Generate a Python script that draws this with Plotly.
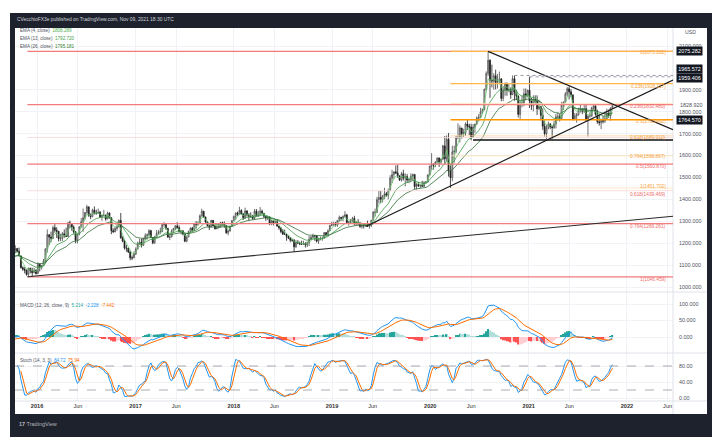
import numpy as np
import pandas as pd
import plotly.graph_objects as go

W, H = 718, 437

# ---------------- DATA (weekly XAUUSD, weeks starting Monday) ----------------
first_week = "2015-07-06"
closes = [
    1157,1131,1085,1095,1094,1113,1160,1134,1121,1103,1138,1146,1137,1156,
    1176,1163,1142,1088,1081,1076,1057,1086,1075,1065,1076,1061,
    1104,1090,1098,1118,1173,1239,1228,1222,1271,1259,1254,1220,1222,1243,1235,1230,1293,1290,1273,1252,1213,1243,
    1275,1298,1316,1340,1366,1327,1322,1351,1336,1336,1341,1321,1327,1328,1310,1338,1316,1257,1251,1267,1276,1304,
    1225,1209,1178,1177,1160,1133,1133,1151,
    1173,1196,1205,1190,1220,1234,1239,1257,1226,1202,1229,1243,1249,1254,1285,1285,1268,1227,1228,1254,1267,1279,
    1271,1254,1256,1242,1209,1228,1254,1269,1258,1289,1285,1291,1325,1346,1320,1297,1280,1275,1304,1280,1266,1270,
    1275,1294,1287,1280,1248,1256,1278,1303,
    1322,1338,1332,1349,1333,1316,1347,1329,1323,1323,1313,1346,1324,1332,1346,1336,1323,1315,1320,1291,1302,1294,
    1298,1278,1270,1253,1241,1241,1231,1223,1214,1213,1184,1205,1201,1196,1195,1199,1192,1203,1218,1227,1234,1233,
    1209,1222,1222,1222,1248,1238,1257,1281,1286,
    1289,1282,1304,1318,1314,1322,1329,1294,1298,1302,1313,1292,1291,1291,1276,1286,1279,1286,1277,1284,1305,1341,
    1341,1399,1409,1400,1416,1426,1419,1440,1497,1513,1526,1520,1507,1488,1517,1497,1504,1488,1490,1505,1514,1459,
    1468,1462,1464,1460,1476,1479,1511,1552,
    1562,1557,1571,1589,1570,1584,1644,1585,1674,1530,1499,1617,1620,1683,1683,1726,1700,1703,1744,1734,1730,1684,
    1730,1743,1771,1774,1799,1810,1902,1975,2035,1944,1940,1964,1934,1940,1950,1861,1899,1930,1899,1902,1878,1951,
    1889,1871,1788,1839,1839,1882,1876,1898,
    1849,1828,1856,1848,1814,1824,1784,1734,1700,1727,1745,1732,1728,1744,1777,1777,1769,1831,1844,1881,1905,1891,
    1877,1764,1781,1787,1808,1812,1802,1814,1763,1780,1781,1818,1827,1788,1754,1750,1761,1757,1768,1793,1783,1818,
    1828,
]
highs = [
    1171,1166,1131,1104,1099,1126,1170,1168,1147,1124,1144,1157,1145,1160,
    1191,1177,1180,1143,1095,1091,1080,1088,1088,1088,1088,1081,
    1112,1100,1100,1128,1177,1263,1240,1253,1280,1287,1273,1256,1243,1251,1263,1271,1297,1303,1290,1281,1255,1245,
    1277,1315,1358,1342,1375,1361,1336,1357,1368,1353,1358,1347,1327,1352,1330,1344,1340,1318,1268,1275,1284,1308,
    1338,1232,1216,1192,1180,1166,1144,1163,
    1181,1207,1220,1220,1226,1245,1244,1264,1261,1228,1233,1260,1261,1271,1289,1296,1287,1267,1237,1264,1270,1282,
    1296,1281,1258,1260,1244,1234,1257,1272,1274,1293,1301,1300,1331,1357,1336,1317,1302,1282,1306,1306,1283,1283,
    1289,1297,1298,1299,1280,1260,1279,1306,
    1326,1340,1344,1366,1355,1338,1362,1351,1337,1341,1329,1356,1356,1348,1365,1353,1338,1321,1326,1319,1307,1307,
    1308,1309,1280,1271,1265,1262,1243,1235,1228,1221,1219,1213,1214,1207,1212,1211,1204,1208,1233,1233,1243,1237,
    1237,1225,1230,1230,1251,1251,1263,1283,1298,
    1298,1297,1305,1326,1320,1327,1346,1334,1298,1311,1320,1325,1300,1310,1295,1289,1290,1290,1303,1287,1306,1347,
    1358,1411,1439,1438,1419,1453,1434,1449,1510,1535,1527,1555,1557,1510,1525,1535,1519,1516,1498,1519,1517,1512,
    1474,1478,1468,1485,1483,1483,1515,1553,
    1611,1563,1574,1591,1591,1585,1649,1689,1692,1703,1560,1645,1645,1690,1747,1738,1722,1722,1751,1765,1745,1745,
    1744,1746,1779,1789,1818,1815,1906,1984,2075.3,2039,2015,1976,1992,1973,1983,1953,1917,1933,1933,1931,1911,1965.6,
    1966,1900,1875,1848,1875,1906,1906,1900,
    1959.4,1863,1875,1875,1875,1855,1825,1815,1760,1740,1755,1745,1738,1759,1790,1797,1790,1844,1846,1890,1913,1916,
    1903,1877,1795,1795,1818,1834,1816,1832,1832,1783,1795,1823,1834,1827,1809,1787,1764,1781,1800,1814,1810,1818,
    1832,
]
lows = [
    1146,1130,1077,1077,1082,1093,1113,1118,1111,1099,1102,1128,1104,1132,
    1155,1159,1141,1085,1074,1062,1052,1050,1062,1046.5,1065,1057,
    1061,1071,1079,1095,1110,1157,1191,1205,1220,1248,1224,1208,1209,1210,1224,1230,1231,1270,1257,1243,1200,1199,
    1236,1271,1252,1307,1335,1320,1310,1318,1331,1330,1334,1315,1302,1322,1302,1312,1312,1241,1248,1251,1257,1271,
    1220,1204,1171,1161,1155,1122,1123,1131,
    1146,1173,1194,1180,1187,1214,1216,1230,1225,1195,1197,1228,1241,1241,1250,1275,1261,1226,1214,1229,1247,1259,
    1265,1250,1240,1236,1205,1204,1228,1250,1253,1256,1266,1281,1291,1321,1315,1289,1276,1260,1273,1277,1262,1264,
    1268,1271,1280,1271,1242,1236,1253,1276,
    1302,1307,1325,1329,1331,1306,1310,1321,1303,1315,1307,1308,1322,1321,1326,1330,1315,1302,1305,1282,1282,1281,
    1289,1275,1261,1246,1238,1238,1211,1219,1204,1206,1160,1178,1196,1191,1193,1192,1180,1182,1187,1221,1221,1211,
    1203,1196,1213,1211,1224,1235,1236,1256,1277,
    1279,1276,1275,1298,1302,1300,1320,1290,1280,1288,1298,1281,1282,1281,1270,1266,1267,1277,1274,1266,1274,1305,
    1322,1338,1381,1382,1386,1401,1412,1400,1440,1474,1492,1516,1498,1484,1481,1486,1459,1475,1474,1479,1486,1446,
    1445,1456,1452,1457,1455,1471,1477,1510,
    1536,1536,1547,1563,1548,1562,1578,1563,1575,1504,1451.7,1483,1567,1610,1674,1660,1677,1685,1690,1716,1693,1670,
    1690,1703,1743,1757,1771,1791,1806,1896,1963,1863,1911,1901,1902,1906,1926,1848,1848,1873,1873,1890,1859,1876,
    1850,1853,1774,1764.6,1820,1825,1854,1866,
    1817,1808,1802,1831,1785,1807,1760,1717,1687,1676,1719,1721,1677,1721,1724,1760,1756,1769,1808,1843,1870,1856,
    1866,1761,1768,1750,1782,1796,1789,1794,1758,1687,1773,1776,1809,1782,1745,1737,1721,1746,1749,1768,1772,1759,
    1812,
]

view_start, view_end = "2015-10-11", "2022-06-21"
xtick_dates = ["2016-01-01", "2016-06-01", "2017-01-01", "2017-06-01", "2018-01-01", "2018-06-01",
               "2019-01-01", "2019-06-01", "2020-01-01", "2020-06-01", "2021-01-01", "2021-06-01",
               "2022-01-01", "2022-06-01"]
xtick_text = ["<b>2016</b>", "Jun", "<b>2017</b>", "Jun", "<b>2018</b>", "Jun", "<b>2019</b>", "Jun",
              "<b>2020</b>", "Jun", "<b>2021</b>", "Jun", "<b>2022</b>", "Jun"]
price_ticks = [1000, 1100, 1200, 1300, 1400, 1500, 1600, 1700, 1800, 1900, 2100]
macd_ticks = [0, 50, 100]
stoch_ticks = [0, 40, 80]

# Fibonacci retracement anchors
fib_ratios = [0, 0.236, 0.382, 0.5, 0.618, 0.764, 1]
red_fib = {"hi": 2075.282, "lo": 1046.459, "start": "2015-11-26"}
orange_fib = {"hi": 2075.282, "lo": 1451.702, "start": "2020-03-16"}

# Drawn trendlines / levels (date, price anchors)
trend_long = (["2015-11-26", "2022-06-21"], [1046.5, 1323])
trend_rise = (["2019-05-06", "2022-06-21"], [1276, 1945])
trend_fall = (["2020-08-03", "2022-06-21"], [2075.3, 1718])
support_line = (["2020-06-08", "2022-06-21"], [1671, 1671])
dotted_1 = (["2020-11-09", "2022-06-21"], [1965.572, 1965.572])
dotted_2 = (["2021-01-04", "2022-06-21"], [1959.406, 1959.406])

ema_labels = ["EMA (4, close)", "EMA (13, close)", "EMA (26, close)"]
ema_values = ["1808.289", "1792.720", "1795.181"]
macd_values = ["5.214", "-2.228", "-7.442"]
stoch_values = ["84.72", "75.94"]
axis_boxes = [("2075.282", 2075.282, 0), ("1965.572", 1965.572, 6), ("1959.406", 1959.406, -1),
              ("1764.570", 1764.570, 0)]
last_price_text = ("1828.920", 1828.92)

# ---------------- DERIVED SERIES ----------------
dates = pd.date_range(first_week, periods=len(closes), freq="7D")
c = pd.Series(closes, index=dates, dtype=float)
o = c.shift(1).fillna(c.iloc[0])
h = pd.Series(np.maximum.reduce([np.array(highs, float), o.values, c.values]), index=dates)
l = pd.Series(np.minimum.reduce([np.array(lows, float), o.values, c.values]), index=dates)

def ema(s, n):
    return s.ewm(span=n, adjust=False).mean()

e4, e13, e26 = ema(c, 4), ema(c, 13), ema(c, 26)
macd = ema(c, 12) - ema(c, 26)
sig = ema(macd, 9)
hist = macd - sig
hcol = []
prev = 0.0
for v in hist.values:
    if v >= 0:
        hcol.append("#26a69a" if v >= prev else "#b2dfdb")
    else:
        hcol.append("#ff5252" if v <= prev else "#ffcdd2")
    prev = v
ll = l.rolling(14).min()
hh = h.rolling(14).max()
raw = 100 * (c - ll) / (hh - ll)
k = raw.rolling(3).mean()
d = k.rolling(3).mean()

# ---------------- LAYOUT HELPERS ----------------
def px(xp):
    return xp / W

def py(yp):
    return 1 - yp / H

PL, PR = 15, 673
FONT = "Liberation Sans"

fig = go.Figure()
fig.add_trace(go.Candlestick(
    x=dates, open=o, high=h, low=l, close=c, xaxis="x", yaxis="y",
    increasing=dict(line=dict(color="#4d4d4d", width=0.8), fillcolor="#ffffff"),
    decreasing=dict(line=dict(color="#1c1c1c", width=0.8), fillcolor="#1c1c1c"),
    whiskerwidth=0, hoverinfo="skip"))
for s, col in [(e4, "#66c96b"), (e13, "#3d9a45"), (e26, "#2f6d36")]:
    fig.add_trace(go.Scatter(x=dates, y=s, mode="lines", line=dict(color=col, width=0.8),
                             xaxis="x", yaxis="y", hoverinfo="skip"))
fig.add_trace(go.Bar(x=dates, y=hist, marker=dict(color=hcol, line=dict(width=0)),
                     xaxis="x2", yaxis="y2", hoverinfo="skip"))
fig.add_trace(go.Scatter(x=dates, y=macd, mode="lines", line=dict(color="#2196f3", width=1),
                         xaxis="x2", yaxis="y2", hoverinfo="skip"))
fig.add_trace(go.Scatter(x=dates, y=sig, mode="lines", line=dict(color="#ff6d00", width=1),
                         xaxis="x2", yaxis="y2", hoverinfo="skip"))
fig.add_trace(go.Scatter(x=dates, y=k, mode="lines", line=dict(color="#2196f3", width=1),
                         xaxis="x3", yaxis="y3", hoverinfo="skip"))
fig.add_trace(go.Scatter(x=dates, y=d, mode="lines", line=dict(color="#ff6d00", width=1),
                         xaxis="x3", yaxis="y3", hoverinfo="skip"))

shapes = []
# dark frame and inner white chart area
shapes.append(dict(type="rect", xref="paper", yref="paper", x0=px(10), x1=px(712), y0=0, y1=py(13),
                   fillcolor="#1e222d", line=dict(width=0), layer="below"))
shapes.append(dict(type="rect", xref="paper", yref="paper", x0=px(15), x1=px(707), y0=py(414), y1=py(28),
                   fillcolor="#ffffff", line=dict(width=0), layer="below"))
# pane separators and scale borders
for yy in (292, 353):
    shapes.append(dict(type="line", xref="paper", yref="paper", x0=px(15), x1=px(707), y0=py(yy), y1=py(yy),
                       line=dict(color="#dfe2ea", width=1)))
shapes.append(dict(type="line", xref="paper", yref="paper", x0=px(15), x1=px(707), y0=py(401), y1=py(401),
                   line=dict(color="#dfe2ea", width=1)))
shapes.append(dict(type="line", xref="paper", yref="paper", x0=px(PR), x1=px(PR), y0=py(414), y1=py(28),
                   line=dict(color="#dfe2ea", width=1)))

annotations = []

def fib_levels(f):
    return [(r, f["hi"] - r * (f["hi"] - f["lo"])) for r in fib_ratios]

red_style = {0: ("#f47b7b", 1.2), 0.236: ("#f47b7b", 1.2), 0.382: ("#fbd3d3", 0.8), 0.5: ("#f47b7b", 1.2),
             0.618: ("#fbd3d3", 0.8), 0.764: ("#f47b7b", 1.2), 1: ("#f47b7b", 1.2)}
orange_style = {0: ("#ffb74d", 1.2), 0.236: ("#ffb74d", 1.2), 0.382: ("#ffe0b2", 0.8), 0.5: ("#ff9800", 1.6),
                0.618: ("#ffd59a", 0.8), 0.764: ("#ffe0b2", 0.8), 1: ("#ffe0b2", 0.8)}
# which levels carry a text label, and its vertical nudge in pixels
red_label = {0.236: -2, 0.5: -2, 0.618: -4, 0.764: -3, 1: -3}
orange_label = {0: -1, 0.236: -3, 0.5: -2, 0.618: -2, 0.764: -1, 1: 2}

for (f, style, lab, tcol) in [(red_fib, red_style, red_label, "#ef6a6a"),
                              (orange_fib, orange_style, orange_label, "#f5a13a")]:
    for r, lev in fib_levels(f):
        colr, wd = style[r]
        shapes.append(dict(type="line", xref="x", yref="y", x0=f["start"], x1=view_end, y0=lev, y1=lev,
                           line=dict(color=colr, width=wd)))
        if r in lab:
            annotations.append(dict(xref="x", yref="y", x=view_end, y=lev, xanchor="right", yanchor="middle",
                                    xshift=-5, yshift=lab[r], showarrow=False,
                                    text=f"{r:g}({lev:.3f})", font=dict(size=4.8, color=tcol, family=FONT)))

for (xs, ys), dash, col, wd in [(trend_long, "solid", "#2a2a2a", 1.1), (trend_rise, "solid", "#1a1a1a", 1.2),
                                (trend_fall, "solid", "#1a1a1a", 1.2), (support_line, "solid", "#111111", 1.6),
                                (dotted_1, "dot", "#9598a1", 1), (dotted_2, "dot", "#9598a1", 1)]:
    shapes.append(dict(type="line", xref="x", yref="y", x0=xs[0], x1=xs[1], y0=ys[0], y1=ys[1],
                       line=dict(color=col, width=wd, dash=dash)))

for lvl in (80, 20):
    shapes.append(dict(type="line", xref="x3", yref="y3", x0=view_start, x1=view_end, y0=lvl, y1=lvl,
                       line=dict(color="#9598a1", width=0.8, dash="dash")))

# texts
annotations.append(dict(xref="paper", yref="paper", x=px(15), y=py(20), xanchor="left", yanchor="middle",
                        showarrow=False, text="CVecchioFX3e published on TradingView.com, Nov 09, 2021 18:30 UTC",
                        font=dict(size=4.9, color="#d1d4dc", family=FONT)))
annotations.append(dict(xref="paper", yref="paper", x=px(17), y=py(424), xanchor="left", yanchor="middle",
                        showarrow=False, text="<b>17</b> TradingView",
                        font=dict(size=5.5, color="#b2b5be", family=FONT)))
ema_cols = ["#4caf50", "#43a047", "#2e7d32"]
for i, (lbl, val) in enumerate(zip(ema_labels, ema_values)):
    annotations.append(dict(xref="paper", yref="paper", x=px(18), y=py(31 + 7.5 * i), xanchor="left",
                            yanchor="middle", showarrow=False,
                            text=f"{lbl}  <span style='color:{ema_cols[i]}'>{val}</span>",
                            font=dict(size=4.6, color="#50535e", family=FONT)))
annotations.append(dict(xref="paper", yref="paper", x=px(18), y=py(305), xanchor="left", yanchor="middle",
                        showarrow=False,
                        text=(f"MACD (12, 26, close, 9)  <span style='color:#26a69a'>{macd_values[0]}</span>  "
                              f"<span style='color:#2196f3'>{macd_values[1]}</span>  "
                              f"<span style='color:#ff6d00'>{macd_values[2]}</span>"),
                        font=dict(size=4.6, color="#50535e", family=FONT)))
annotations.append(dict(xref="paper", yref="paper", x=px(18), y=py(360), xanchor="left", yanchor="middle",
                        showarrow=False,
                        text=(f"Stoch (14, 3, 3)  <span style='color:#2196f3'>{stoch_values[0]}</span>  "
                              f"<span style='color:#ff6d00'>{stoch_values[1]}</span>"),
                        font=dict(size=4.6, color="#50535e", family=FONT)))
annotations.append(dict(xref="paper", yref="paper", x=px(690), y=py(32), xanchor="center", yanchor="middle",
                        showarrow=False, text="USD", font=dict(size=5.2, color="#50535e", family=FONT)))
for txt, val, ysh in axis_boxes:
    annotations.append(dict(xref="paper", yref="y", x=px(676), y=val, xanchor="left", yanchor="middle",
                            yshift=ysh, showarrow=False, text=txt, bgcolor="#131722", borderpad=1.2,
                            font=dict(size=5.4, color="#ffffff", family=FONT)))
annotations.append(dict(xref="paper", yref="y", x=px(678), y=last_price_text[1], xanchor="left",
                        yanchor="middle", showarrow=False, text=last_price_text[0],
                        font=dict(size=5.4, color="#50535e", family=FONT)))

grid = "#f1f2f5"
xcommon = dict(type="date", range=[view_start, view_end], domain=[px(PL), px(PR)], tickvals=xtick_dates,
               ticktext=xtick_text, showgrid=True, gridcolor=grid, gridwidth=1, zeroline=False,
               showline=False, ticks="", tickfont=dict(size=5.6, color="#333333", family=FONT))
ycommon = dict(side="right", showgrid=True, gridcolor=grid, zeroline=False, showline=False, ticks="",
               ticklabelstandoff=5, tickfont=dict(size=5.4, color="#50535e", family=FONT))

fig.update_layout(
    width=W, height=H, margin=dict(l=0, r=0, t=0, b=0),
    paper_bgcolor="#ffffff", plot_bgcolor="rgba(0,0,0,0)", showlegend=False, bargap=0.2,
    font=dict(family=FONT),
    xaxis=dict(xcommon, anchor="y", showticklabels=False, rangeslider=dict(visible=False)),
    xaxis2=dict(xcommon, anchor="y2", matches="x", showticklabels=False),
    xaxis3=dict(xcommon, anchor="y3", matches="x", showticklabels=True),
    yaxis=dict(ycommon, anchor="x", domain=[py(292), py(28)], range=[977.2, 2182.2],
               tickvals=price_ticks, tickformat=".3f"),
    yaxis2=dict(ycommon, anchor="x2", domain=[py(353), py(292)], range=[-48.5, 136.4],
                tickvals=macd_ticks, tickformat=".3f"),
    yaxis3=dict(ycommon, anchor="x3", domain=[py(401), py(353)], range=[-7.5, 112.5],
                tickvals=stoch_ticks, tickformat=".2f"),
    shapes=shapes, annotations=annotations,
)

fig.write_html("out.html")
